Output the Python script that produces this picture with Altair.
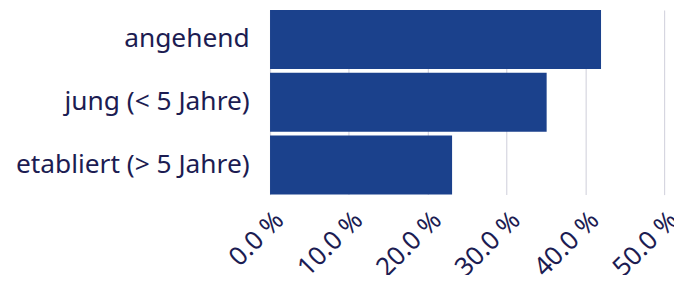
import altair as alt
import pandas as pd

categories = ["angehend", "jung (< 5 Jahre)", "etabliert (> 5 Jahre)"]
values = [42.0, 35.1, 23.1]

df = pd.DataFrame({"kategorie": categories, "anteil": values})

FONT = "Noto Sans"
TEXT = "#1c1c52"

chart = alt.Chart(df).mark_bar(color="#1b418c").encode(
    x=alt.X("anteil:Q",
            scale=alt.Scale(domain=[0, 50], nice=False),
            axis=alt.Axis(values=[0, 10, 20, 30, 40, 50],
                          labelExpr="format(datum.value, '.1f') + ' %'",
                          labelAngle=-45, labelFontSize=26, labelFont=FONT,
                          labelColor=TEXT, labelPadding=12, title=None,
                          domain=False, ticks=False, grid=True,
                          gridColor="#d6d6e0", gridWidth=1.2,
                          labelOverlap=False, labelFlush=False, labelLimit=400)),
    y=alt.Y("kategorie:N", sort=categories,
            scale=alt.Scale(paddingInner=0.06, paddingOuter=0.0),
            axis=alt.Axis(title=None, labelFontSize=26.5, labelFont=FONT,
                          labelColor=TEXT, labelPadding=21, labelLimit=400,
                          domain=False, ticks=False, grid=False)),
).properties(
    width=397, height=186,
    autosize=alt.AutoSizeParams(type="none"),
    padding={"left": 264, "top": 1, "right": 10, "bottom": 80},
).configure_view(stroke=None)

chart.save("out.html", embed_options={"renderer": "svg", "actions": False})
